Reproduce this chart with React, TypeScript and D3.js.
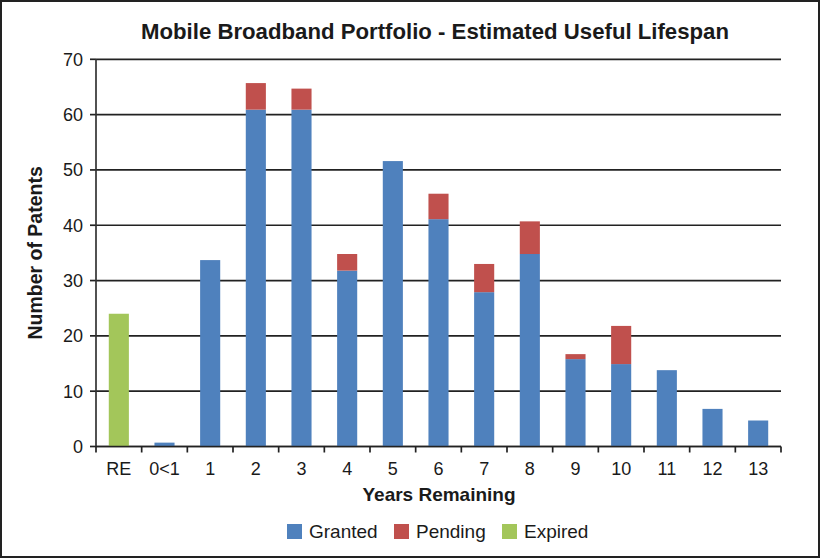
import React from "react";
import * as d3 from "d3";

const categories = ["RE", "0<1", "1", "2", "3", "4", "5", "6", "7", "8", "9", "10", "11", "12", "13"];
const granted = [0, 0.7, 33.7, 60.9, 60.9, 31.8, 51.6, 41.1, 27.9, 34.8, 15.8, 14.9, 13.8, 6.8, 4.7];
const pending = [0, 0, 0, 4.8, 3.8, 3.0, 0, 4.6, 5.1, 5.9, 0.9, 6.9, 0, 0, 0];
const expired = [24, 0, 0, 0, 0, 0, 0, 0, 0, 0, 0, 0, 0, 0, 0];
const yTicks = [0, 10, 20, 30, 40, 50, 60, 70];
const seriesNames = ["Granted", "Pending", "Expired"];

const COLORS = ["#4F81BD", "#C0504D", "#A3C65A"];
const FONT = "'Liberation Sans', Arial, Helvetica, sans-serif";

export default function App() {
  const W = 822, H = 559;
  const left = 96, right = 781, top = 59.3, bottom = 446.5;
  const x = d3.scaleBand<string>().domain(categories).range([left, right]).paddingInner(0.56).paddingOuter(0.28);
  const y = d3.scaleLinear().domain([0, 70]).range([bottom, top]);
  const step = x.step();
  const rows = categories.map((c, i) => ({ c, granted: granted[i], pending: pending[i], expired: expired[i] }));
  const stack = d3.stack<any>().keys(["granted", "pending", "expired"])(rows);

  const legendItems = [
    { name: seriesNames[0], sx: 287, tx: 309 },
    { name: seriesNames[1], sx: 394, tx: 416 },
    { name: seriesNames[2], sx: 502, tx: 524 },
  ];

  return (
    <svg width={W} height={H} style={{ position: "absolute", left: 0, top: 0, background: "#fff" }} fontFamily={FONT}>
      <rect x={1} y={1} width={818} height={556} fill="#fff" stroke="#222" strokeWidth={2} />
      <text x={435} y={39} textAnchor="middle" fontSize={22.2} fontWeight="bold" fill="#1a1a1a">
        Mobile Broadband Portfolio - Estimated Useful Lifespan
      </text>
      {yTicks.map((t) => (
        <g key={t}>
          <line x1={left} x2={right} y1={y(t)} y2={y(t)} stroke="#222" strokeWidth={1.7} />
          <line x1={left - 6} x2={left} y1={y(t)} y2={y(t)} stroke="#222" strokeWidth={1.7} />
          <text x={83} y={y(t) + 6.5} textAnchor="end" fontSize={18} fill="#1a1a1a">{t}</text>
        </g>
      ))}
      <line x1={left} x2={left} y1={top} y2={bottom} stroke="#333" strokeWidth={1.7} />
      {stack.map((s, si) =>
        s.map((d, i) =>
          d[1] - d[0] > 0 ? (
            <rect key={si + "-" + i} x={x(categories[i])} width={x.bandwidth()} y={y(d[1])} height={y(d[0]) - y(d[1])} fill={COLORS[si]} />
          ) : null
        )
      )}
      <line x1={left} x2={right} y1={bottom} y2={bottom} stroke="#222" strokeWidth={1.7} />
      {d3.range(categories.length + 1).map((i) => (
        <line key={i} x1={left + i * step} x2={left + i * step} y1={bottom} y2={bottom + 6} stroke="#222" strokeWidth={1.7} />
      ))}
      {categories.map((c) => (
        <text key={c} x={(x(c) as number) + x.bandwidth() / 2} y={475} textAnchor="middle" fontSize={18} fill="#1a1a1a">{c}</text>
      ))}
      <text x={439} y={501} textAnchor="middle" fontSize={19} fontWeight="bold" fill="#1a1a1a">Years Remaining</text>
      <text transform={`translate(42,${(top + bottom) / 2}) rotate(-90)`} textAnchor="middle" fontSize={19.5} fontWeight="bold" fill="#1a1a1a">
        Number of Patents
      </text>
      {legendItems.map((l, i) => (
        <g key={l.name}>
          <rect x={l.sx} y={524} width={15} height={15} fill={COLORS[i]} />
          <text x={l.tx} y={538} fontSize={19} fill="#1a1a1a">{l.name}</text>
        </g>
      ))}
    </svg>
  );
}
